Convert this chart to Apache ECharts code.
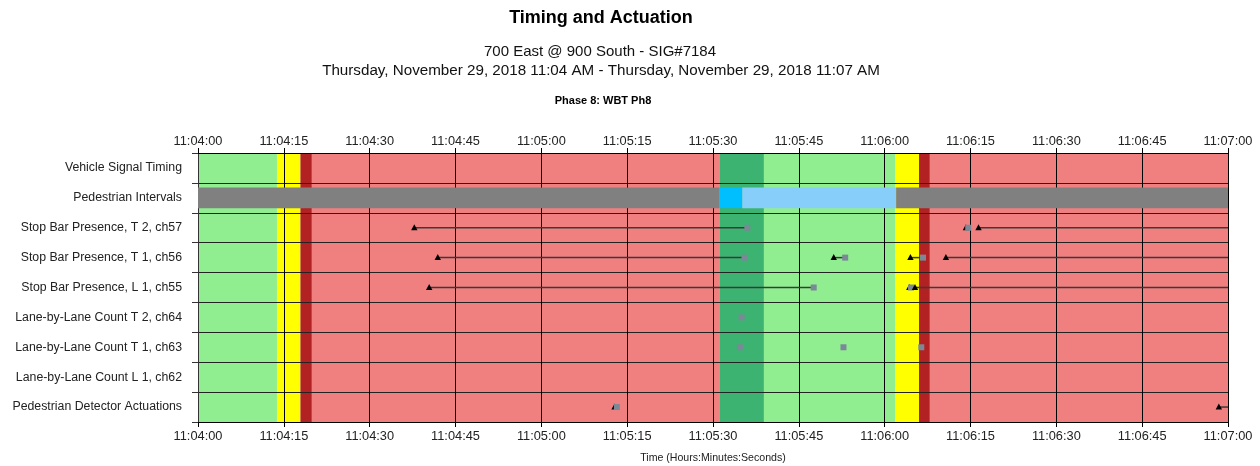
<!DOCTYPE html>
<html lang="en">
<head>
<meta charset="UTF-8">
<meta name="viewport" content="width=device-width, initial-scale=1.0">
<title>Timing and Actuation</title>
<style>
    * {
        padding: 0;
        margin: 0;
    }
    html, body {
        width: 100%;
        height: 100%;
        background: #fff;
    }
    #chart {
        width: 1260px;
        height: 466px;
    }
</style>
</head>
<body>
<div id="chart"></div>
<script src="https://cdn.jsdelivr.net/npm/echarts@6/dist/echarts.min.js"></script>
<script>
// all times are seconds after 11:04:00
const startClock = [11, 4, 0];
const rangeSeconds = [0, 180];

const rowNames = [
    'Vehicle Signal Timing',
    'Pedestrian Intervals',
    'Stop Bar Presence, T 2, ch57',
    'Stop Bar Presence, T 1, ch56',
    'Stop Bar Presence, L 1, ch55',
    'Lane-by-Lane Count T 2, ch64',
    'Lane-by-Lane Count T 1, ch63',
    'Lane-by-Lane Count L 1, ch62',
    'Pedestrian Detector Actuations'
];

// [start, end, state]
const vehicleIntervals = [
    [0, 13.8, 'green'],
    [13.8, 17.9, 'yellow'],
    [17.9, 19.9, 'redClear'],
    [19.9, 91.1, 'red'],
    [91.1, 98.9, 'minGreen'],
    [98.9, 121.9, 'green'],
    [121.9, 126.0, 'yellow'],
    [126.0, 127.9, 'redClear'],
    [127.9, 180, 'red']
];

const pedIntervals = [
    [0, 91.1, 'dontWalk'],
    [91.1, 95.1, 'walk'],
    [95.1, 122.0, 'clearance'],
    [122.0, 180, 'dontWalk']
];

// detector on / off pairs, null = still on at end of range
const stopBarT2 = [[37.8, 96.0], [134.2, 134.6], [136.4, null]];
const stopBarT1 = [[41.9, 95.5], [111.1, 113.1], [124.5, 126.7], [130.7, null]];
const stopBarL1 = [[40.4, 107.6], [124.3, 124.6], [125.3, null]];
const pedDetector = [[72.8, 73.2], [178.4, null]];

// lane-by-lane count hits
const countT2 = [95.0];
const countT1 = [94.7, 112.8, 126.4];
const countL1 = [];

const stateColors = {
    green: '#90EE90',
    minGreen: '#3CB371',
    yellow: '#FFFF00',
    redClear: '#B22222',
    red: '#F08080',
    dontWalk: '#808080',
    walk: '#00BFFF',
    clearance: '#87CEFA'
};

function clockLabel(v) {
    let s = startClock[0] * 3600 + startClock[1] * 60 + startClock[2] + Math.round(v);
    let h = Math.floor(s / 3600), m = Math.floor(s / 60) % 60, sec = s % 60;
    return h + ':' + String(m).padStart(2, '0') + ':' + String(sec).padStart(2, '0');
}

let presenceData = [];
[[2, stopBarT2], [3, stopBarT1], [4, stopBarL1], [8, pedDetector]].forEach(([row, list]) => {
    list.forEach(([on, off]) => {
        presenceData.push([on, off === null ? rangeSeconds[1] : off, row, off === null ? 0 : 1]);
    });
});
let countData = [];
[[5, countT2], [6, countT1], [7, countL1]].forEach(([row, list]) => {
    list.forEach(t => countData.push([t, row]));
});

const font = "'Liberation Sans', Arial, sans-serif";
const myChart = echarts.init(document.getElementById('chart'));

const tickLabelStyle = { fontFamily: font, fontSize: 12.8, color: '#222' };

const option = {
    animation: false,
    backgroundColor: '#fff',
    title: [
        { text: 'Timing and Actuation', left: 601, top: 9, textAlign: 'center', padding: 0,
          textStyle: { fontFamily: font, fontSize: 18, fontWeight: 'bold', color: '#000' } },
        { text: '700 East @ 900 South - SIG#7184', left: 600, top: 44, textAlign: 'center', padding: 0,
          textStyle: { fontFamily: font, fontSize: 15, fontWeight: 'normal', color: '#111' } },
        { text: 'Thursday, November 29, 2018 11:04 AM - Thursday, November 29, 2018 11:07 AM', left: 601, top: 63, textAlign: 'center', padding: 0,
          textStyle: { fontFamily: font, fontSize: 15.2, fontWeight: 'normal', color: '#111' } },
        { text: 'Phase 8: WBT Ph8', left: 603, top: 95, textAlign: 'center', padding: 0,
          textStyle: { fontFamily: font, fontSize: 11, fontWeight: 'bold', color: '#000' } }
    ],
    grid: { left: 198, right: 32, top: 153, bottom: 44, outerBoundsMode: 'none', containLabel: false },
    xAxis: [
        {
            type: 'value', position: 'bottom', min: rangeSeconds[0], max: rangeSeconds[1], interval: 15, z: 2,
            name: 'Time (Hours:Minutes:Seconds)', nameLocation: 'middle', nameGap: 31,
            nameTextStyle: { fontFamily: font, fontSize: 10.6, color: '#222' },
            axisLine: { show: true, lineStyle: { color: '#000', width: 1 } },
            axisTick: { show: true, length: 5, lineStyle: { color: '#000' } },
            axisLabel: Object.assign({ margin: 8, formatter: clockLabel }, tickLabelStyle),
            splitLine: { show: true, lineStyle: { color: '#000', width: 1 } }
        },
        {
            type: 'value', position: 'top', min: rangeSeconds[0], max: rangeSeconds[1], interval: 15, z: 2,
            axisLine: { show: true, lineStyle: { color: '#000', width: 1 } },
            axisTick: { show: true, length: 5, lineStyle: { color: '#000' } },
            axisLabel: Object.assign({ margin: 5, formatter: clockLabel }, tickLabelStyle),
            splitLine: { show: false }
        }
    ],
    yAxis: {
        type: 'category', data: rowNames, inverse: true, z: 2,
        axisLine: { show: true, lineStyle: { color: '#333' } },
        axisTick: { show: true, length: 6, lineStyle: { color: '#333' } },
        axisLabel: { margin: 16, fontFamily: font, fontSize: 12.3, color: '#222' },
        splitLine: { show: true, lineStyle: { color: '#222', width: 1 } }
    },
    series: [
        {
            // vehicle signal states fill the whole plot height
            type: 'custom', z: 1, clip: true,
            encode: { x: [0, 1], y: 2 },
            data: vehicleIntervals.map(d => [d[0], d[1], 0]),
            renderItem: function (params, api) {
                let x0 = api.coord([api.value(0), 0])[0];
                let x1 = api.coord([api.value(1), 0])[0];
                let cs = params.coordSys;
                return {
                    type: 'rect',
                    shape: { x: x0, y: cs.y, width: x1 - x0, height: cs.height },
                    style: { fill: stateColors[vehicleIntervals[params.dataIndex][2]] }
                };
            }
        },
        {
            type: 'custom', z: 3, clip: true,
            encode: { x: [0, 1], y: 2 },
            data: pedIntervals.map(d => [d[0], d[1], 1]),
            renderItem: function (params, api) {
                let p0 = api.coord([api.value(0), api.value(2)]);
                let p1 = api.coord([api.value(1), api.value(2)]);
                let h = api.size([0, 1])[1] * 0.69;
                return {
                    type: 'rect',
                    shape: { x: p0[0], y: p0[1] - h / 2, width: p1[0] - p0[0], height: h },
                    style: { fill: stateColors[pedIntervals[params.dataIndex][2]] }
                };
            }
        },
        {
            type: 'custom', z: 4, clip: true,
            encode: { x: [0, 1], y: 2 },
            data: presenceData,
            renderItem: function (params, api) {
                let row = api.value(2);
                let p0 = api.coord([api.value(0), row]);
                let p1 = api.coord([api.value(1), row]);
                let children = [
                    { type: 'line', shape: { x1: p0[0], y1: p0[1], x2: p1[0], y2: p1[1] },
                      style: { stroke: '#3a3a3a', lineWidth: 1.5 } },
                    { type: 'polygon',
                      shape: { points: [[p0[0], p0[1] - 3.5], [p0[0] - 3.2, p0[1] + 2.5], [p0[0] + 3.2, p0[1] + 2.5]] },
                      style: { fill: '#000' } }
                ];
                if (api.value(3)) {
                    children.push({ type: 'rect', shape: { x: p1[0] - 3, y: p1[1] - 3, width: 6, height: 6 },
                                    style: { fill: '#7B8898' } });
                }
                return { type: 'group', children: children };
            }
        },
        {
            type: 'custom', z: 4, clip: true,
            encode: { x: 0, y: 1 },
            data: countData,
            renderItem: function (params, api) {
                let p = api.coord([api.value(0), api.value(1)]);
                return { type: 'rect', shape: { x: p[0] - 3, y: p[1] - 3, width: 6, height: 6 },
                         style: { fill: '#7B8898' } };
            }
        }
    ]
};

myChart.setOption(option);
</script>
</body>
</html>
